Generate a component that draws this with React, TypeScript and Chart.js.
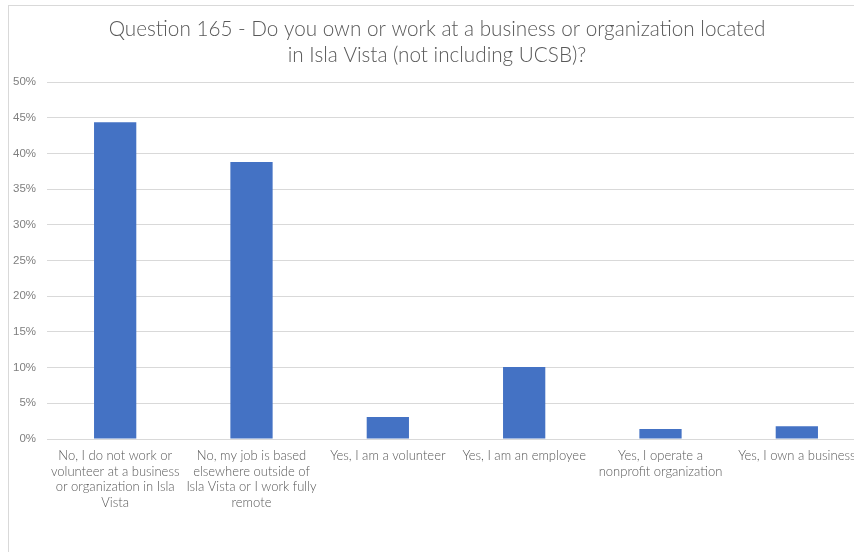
import React, { useEffect, useRef } from "react";
import { Chart, registerables } from "chart.js";

Chart.register(...registerables);

const titleLines = [
  "Question 165 - Do you own or work at a business or organization located",
  "in Isla Vista (not including UCSB)?",
];

const categories: (string | string[])[] = [
  ["No, I do not work or", "volunteer at a business", "or organization in Isla", "Vista"],
  ["No, my job is based", "elsewhere outside of", "Isla Vista or I work fully", "remote"],
  "Yes, I am a volunteer",
  "Yes, I am an employee",
  ["Yes, I operate a", "nonprofit organization"],
  "Yes, I own a business",
];

const values = [44.4, 38.8, 3.1, 10.1, 1.4, 1.8];

const yTicks = [0, 5, 10, 15, 20, 25, 30, 35, 40, 45, 50];

const FONT = "Lato, 'Liberation Sans', sans-serif";

export default function App() {
  const ref = useRef<HTMLCanvasElement | null>(null);

  useEffect(() => {
    document.body.style.margin = "0";
    const ctx = ref.current;
    if (!ctx) return;
    const chart = new Chart(ctx, {
      type: "bar",
      data: {
        labels: categories,
        datasets: [
          {
            data: values,
            backgroundColor: "#4472C4",
            barPercentage: 0.62,
            categoryPercentage: 0.5,
          },
        ],
      },
      options: {
        animation: false,
        responsive: false,
        maintainAspectRatio: false,
        layout: { padding: { left: 0, right: 14, top: 0, bottom: 13 } },
        plugins: {
          legend: { display: false },
          tooltip: { enabled: false },
          title: {
            display: true,
            text: titleLines,
            color: "#595959",
            font: { family: FONT, size: 20.7, weight: 300, lineHeight: 1.26 },
            padding: { top: 10, bottom: 14 },
          },
        },
        scales: {
          x: {
            grid: { display: false, drawTicks: false },
            border: { display: true, color: "#d9d9d9" },
            ticks: {
              color: "#595959",
              font: { family: FONT, size: 13, weight: 300, lineHeight: 1.2 },
              maxRotation: 0,
              autoSkip: false,
              padding: 9,
            },
            afterFit: (scale: any) => {
              scale.height = 100;
            },
          },
          y: {
            min: 0,
            max: 50,
            afterBuildTicks: (scale: any) => {
              scale.ticks = yTicks.map((v) => ({ value: v }));
            },
            grid: { color: "#d9d9d9", drawTicks: false },
            border: { display: false },
            ticks: {
              color: "#7f7f7f",
              font: { family: "'Liberation Sans', Arial, sans-serif", size: 11.5 },
              padding: 11,
              callback: (v: any) => v + "%",
            },
            afterFit: (scale: any) => {
              scale.width = 38;
            },
          },
        },
      },
    });
    return () => chart.destroy();
  }, []);

  return (
    <div
      style={{
        position: "fixed",
        left: 0,
        top: 0,
        width: 854,
        height: 552,
        overflow: "hidden",
        background: "#fff",
      }}
    >
      <div
        style={{
          position: "absolute",
          left: 8,
          top: 5,
          width: 870,
          height: 547,
          borderLeft: "1px solid #d9d9d9",
          borderTop: "1px solid #d9d9d9",
        }}
      >
        <canvas ref={ref} width={870} height={546} style={{ display: "block" }} />
      </div>
    </div>
  );
}
